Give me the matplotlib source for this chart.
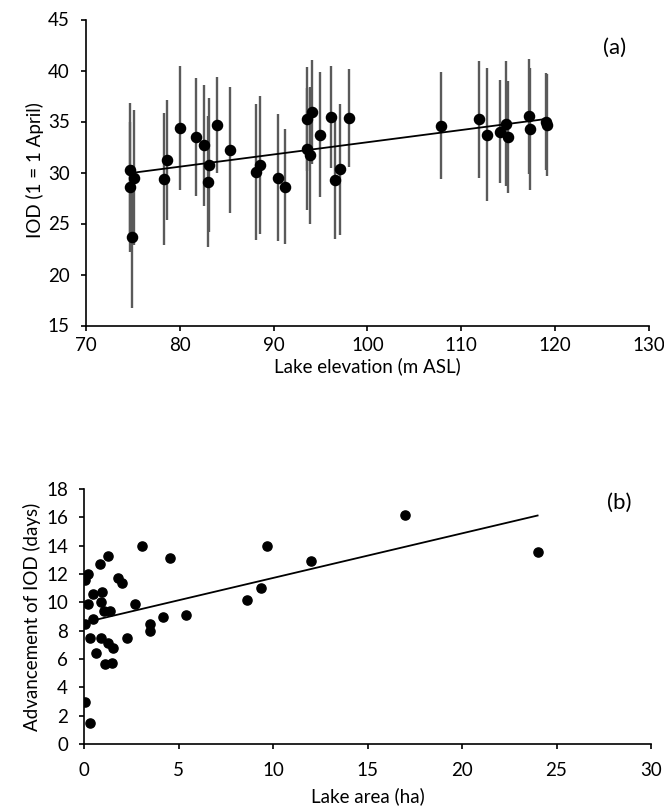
import numpy as np
import matplotlib.pyplot as plt

plt.rcParams['font.family'] = ['Lato', 'DejaVu Sans']

# (a) ice-out date vs lake elevation
elevation = [74.65, 75.1, 74.7, 74.86, 78.3, 78.66, 80.0, 81.7, 82.6, 83.1, 83.0, 84.0,
             85.35, 88.1, 88.5, 90.5, 91.2, 93.6, 94.05, 93.55, 93.85, 94.9, 96.1, 96.5,
             97.05, 98.0, 107.8, 111.9, 112.7, 114.15, 114.8, 115.0, 117.2, 117.3, 119.0, 119.1]
iod = [30.2, 29.5, 28.6, 23.7, 29.35, 31.2, 34.35, 33.45, 32.65, 30.75, 29.1, 34.7,
       32.2, 30.05, 30.75, 29.5, 28.6, 35.2, 35.9, 32.3, 31.7, 33.7, 35.4, 29.3,
       30.3, 35.3, 34.6, 35.2, 33.7, 34.0, 34.8, 33.5, 35.5, 34.25, 35.0, 34.7]
iod_sd = [6.6, 6.6, 6.4, 7.0, 6.5, 5.9, 6.05, 5.8, 5.95, 6.6, 6.4, 4.7,
          6.2, 6.7, 6.75, 6.2, 5.65, 5.1, 5.1, 6.0, 6.7, 6.15, 5.0, 5.8,
          6.4, 4.8, 5.25, 5.7, 6.5, 5.05, 6.1, 5.5, 5.6, 6.0, 4.8, 5.0]

# (b) advancement of ice-out vs lake area
area = [0.05, 0.2, 0.2, 0.46, 0.04, 0.5, 0.32, 0.65, 0.87, 0.97, 0.88, 1.08, 1.36,
        0.88, 1.25, 1.55, 1.13, 1.48, 1.27, 1.8, 2.0, 2.3, 2.69, 3.06, 3.48, 3.48,
        4.19, 4.56, 5.39, 0.04, 0.32, 8.62, 9.36, 9.68, 12.0, 17.0, 24.0]
advance = [11.6, 12.0, 9.86, 10.6, 8.45, 8.8, 7.46, 6.4, 12.7, 10.7, 10.0, 9.36, 9.36,
           7.46, 7.15, 6.78, 5.62, 5.74, 13.3, 11.7, 11.4, 7.46, 9.9, 14.0, 8.47, 8.0,
           8.96, 13.15, 9.1, 3.0, 1.48, 10.2, 11.0, 14.0, 12.9, 16.16, 13.55]

W, H = 664, 809
fig = plt.figure(figsize=(W / 100, H / 100), dpi=100)
ax1 = fig.add_axes([86 / W, 1 - 325.5 / H, 563 / W, 306 / H])
ax2 = fig.add_axes([84 / W, 1 - 744 / H, 567 / W, 255 / H])
fs = 13.5

def style(ax, xpad, ypad):
    for s in ['top', 'right']:
        ax.spines[s].set_visible(False)
    for s in ['left', 'bottom']:
        ax.spines[s].set_linewidth(1.2)
    ax.tick_params(direction='out', length=3.6, width=1.2, labelsize=fs)
    ax.tick_params(axis='x', pad=xpad)
    ax.tick_params(axis='y', pad=ypad)

ax1.errorbar(elevation, iod, yerr=iod_sd, fmt='none', ecolor='#5a5a5a', elinewidth=1.7, capsize=0, zorder=1)
ax1.plot(elevation, iod, 'o', color='black', markersize=7.3, zorder=3)
p = np.polyfit(elevation, iod, 1)
xs = np.array([min(elevation), max(elevation)])
ax1.plot(xs, np.polyval(p, xs), color='black', linewidth=1.3, zorder=2)
ax1.set_xlim(70, 130)
ax1.set_ylim(15, 45)
ax1.set_xticks(np.arange(70, 131, 10))
ax1.set_yticks(np.arange(15, 46, 5))
ax1.text(0.9396, 0.907, '(a)', transform=ax1.transAxes, fontsize=16, ha='center', va='center')
style(ax1, 5, 8)
fig.text(367.5 / W, 1 - 366 / H, 'Lake elevation (m ASL)', fontsize=fs, ha='center', va='center')
fig.text(34.5 / W, 1 - 170 / H, 'IOD (1 = 1 April)', fontsize=fs, rotation=90, ha='center', va='center')

ax2.plot(area, advance, 'o', color='black', markersize=6.6, zorder=3)
p2 = np.polyfit(area, advance, 1)
xs2 = np.array([min(area), max(area)])
ax2.plot(xs2, np.polyval(p2, xs2), color='black', linewidth=1.3, zorder=2)
ax2.set_xlim(0, 30)
ax2.set_ylim(0, 18)
ax2.set_xticks(np.arange(0, 31, 5))
ax2.set_yticks(np.arange(0, 19, 2))
ax2.text(0.9436, 0.945, '(b)', transform=ax2.transAxes, fontsize=16, ha='center', va='center')
style(ax2, 9.5, 8)
fig.text(367.5 / W, 1 - 796 / H, 'Lake area (ha)', fontsize=fs, ha='center', va='center')
fig.text(31.5 / W, 1 - 617 / H, 'Advancement of IOD (days)', fontsize=fs, rotation=90, ha='center', va='center')

fig.savefig('out.png', dpi=100)
